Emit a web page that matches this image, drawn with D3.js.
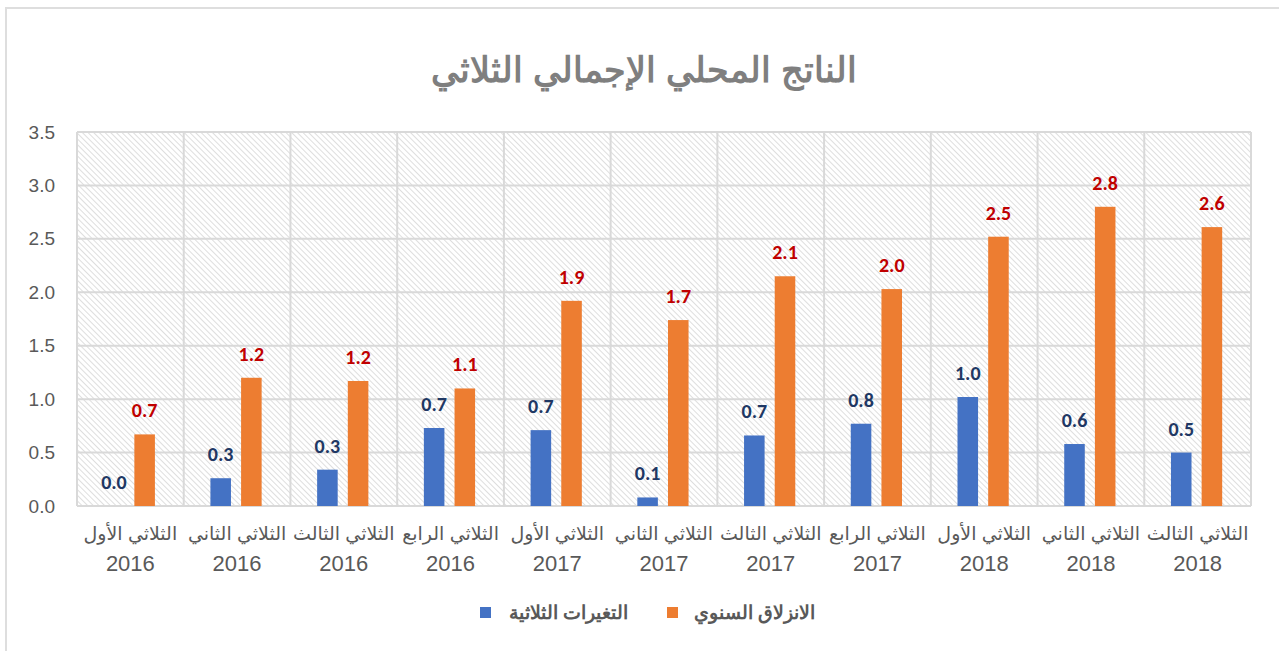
<!DOCTYPE html>
<html>
<head>
<meta charset="utf-8">
<title>الناتج المحلي الإجمالي الثلاثي</title>
<script src="https://cdn.jsdelivr.net/npm/d3@7"></script>
<style>
  body { margin: 0; background: #fff; }
  svg { display: block; font-family: Arial, "Liberation Sans", sans-serif; }
</style>
</head>
<body>
<script>
  // data
  const quarters = ['الثلاثي الأول', 'الثلاثي الثاني', 'الثلاثي الثالث', 'الثلاثي الرابع',
    'الثلاثي الأول', 'الثلاثي الثاني', 'الثلاثي الثالث', 'الثلاثي الرابع',
    'الثلاثي الأول', 'الثلاثي الثاني', 'الثلاثي الثالث'];
  const years = ['2016', '2016', '2016', '2016', '2017', '2017', '2017', '2017', '2018', '2018', '2018'];
  const quarterly = [0.0, 0.26, 0.34, 0.73, 0.71, 0.08, 0.66, 0.77, 1.02, 0.58, 0.50];
  const annual = [0.67, 1.20, 1.17, 1.10, 1.92, 1.74, 2.15, 2.03, 2.52, 2.80, 2.61];
  const yTicks = [0, 0.5, 1, 1.5, 2, 2.5, 3, 3.5];
  const seriesNames = ['التغيرات الثلاثية', 'الانزلاق السنوي'];

  const width = 1279, height = 651;
  const margin = {left: 77, right: 28, top: 132, bottom: 145};
  const colors = ['#4472c4', '#ed7d31'];
  const labelColors = ['#1f3864', '#c00000'];

  const svg = d3.select('body').append('svg')
    .attr('width', width)
    .attr('height', height);

  // hatch pattern for plot background
  const pat = svg.append('defs').append('pattern')
    .attr('id', 'hatch')
    .attr('patternUnits', 'userSpaceOnUse')
    .attr('width', 4).attr('height', 4)
    .attr('patternTransform', 'rotate(-45)');
  pat.append('rect').attr('width', 4).attr('height', 4).attr('fill', '#fff');
  pat.append('line')
    .attr('x1', 0).attr('y1', 0).attr('x2', 0).attr('y2', 4)
    .attr('stroke', '#d0d0d0').attr('stroke-width', 1.4);

  // outer chart border (only top/left visible)
  svg.append('rect')
    .attr('x', 6).attr('y', 8)
    .attr('width', width + 20).attr('height', height + 20)
    .attr('fill', 'none')
    .attr('stroke', '#dedede')
    .attr('stroke-width', 2);

  const x = d3.scaleBand()
    .domain(d3.range(quarters.length))
    .range([margin.left, width - margin.right]);

  const y = d3.scaleLinear()
    .domain([0, 3.5])
    .range([height - margin.bottom, margin.top]);

  // bars inside a category
  const inner = d3.scaleBand()
    .domain([0, 1])
    .range([x.bandwidth() * 0.25, x.bandwidth() * 0.73])
    .paddingInner(0.33);

  // plot background
  svg.append('rect')
    .attr('x', x.range()[0]).attr('y', y(3.5))
    .attr('width', x.range()[1] - x.range()[0])
    .attr('height', y(0) - y(3.5))
    .attr('fill', 'url(#hatch)');

  // horizontal grid
  svg.append('g')
    .selectAll('line')
    .data(yTicks)
    .join('line')
    .attr('x1', x.range()[0]).attr('x2', x.range()[1])
    .attr('y1', d => y(d)).attr('y2', d => y(d))
    .attr('stroke', '#d9d9d9').attr('stroke-width', 2);

  // vertical grid at category boundaries
  svg.append('g')
    .selectAll('line')
    .data(d3.range(quarters.length + 1))
    .join('line')
    .attr('x1', i => i < quarters.length ? x(i) : x.range()[1])
    .attr('x2', i => i < quarters.length ? x(i) : x.range()[1])
    .attr('y1', y(3.5)).attr('y2', y(0))
    .attr('stroke', '#d9d9d9').attr('stroke-width', 2);

  // y axis
  const yAxis = svg.append('g')
    .attr('transform', 'translate(' + (margin.left - 22) + ',0)')
    .call(d3.axisLeft(y).tickValues(yTicks).tickFormat(d3.format('.1f')).tickSize(0).tickPadding(0));
  yAxis.select('.domain').remove();
  yAxis.selectAll('text')
    .attr('fill', '#595959')
    .style('font-size', '19px')
    .style('font-family', 'Arial, "Liberation Sans", sans-serif');

  // bars
  const series = [quarterly, annual];
  series.forEach((vals, s) => {
    const g = svg.append('g');
    g.selectAll('rect')
      .data(vals)
      .join('rect')
      .attr('x', (d, i) => x(i) + inner(s))
      .attr('width', inner.bandwidth())
      .attr('y', d => y(d))
      .attr('height', d => y(0) - y(d))
      .attr('fill', colors[s]);
    g.selectAll('text')
      .data(vals)
      .join('text')
      .attr('x', (d, i) => x(i) + inner(s) + inner.bandwidth() / 2)
      .attr('y', d => y(d) - 17)
      .attr('text-anchor', 'middle')
      .attr('fill', labelColors[s])
      .style('font-size', '20px')
      .style('font-weight', 'bold')
      .style('font-family', 'Calibri, Carlito, "Open Sans", sans-serif')
      .text(d => d3.format('.1f')(d));
  });

  // x axis labels
  const xl = svg.append('g')
    .attr('fill', '#595959')
    .attr('text-anchor', 'middle');
  xl.selectAll('text.q')
    .data(quarters)
    .join('text')
    .attr('class', 'q')
    .attr('x', (d, i) => x(i) + x.bandwidth() / 2)
    .attr('y', 540)
    .attr('direction', 'rtl')
    .style('font-size', '19px')
    .style('font-family', 'Arial, "Liberation Sans", "DejaVu Sans", sans-serif')
    .text(d => d);
  xl.selectAll('text.yr')
    .data(years)
    .join('text')
    .attr('class', 'yr')
    .attr('x', (d, i) => x(i) + x.bandwidth() / 2)
    .attr('y', 571)
    .style('font-size', '22px')
    .text(d => d);

  // title
  svg.append('text')
    .attr('x', 644).attr('y', 82)
    .attr('text-anchor', 'middle')
    .attr('direction', 'rtl')
    .attr('fill', '#7f7f7f')
    .style('font-size', '35px')
    .style('font-weight', 'bold')
    .text('الناتج المحلي الإجمالي الثلاثي');

  // legend
  const legendItems = [
    {name: seriesNames[0], color: colors[0], box: 480, textRight: 628},
    {name: seriesNames[1], color: colors[1], box: 667, textRight: 815}
  ];
  const lg = svg.append('g');
  lg.selectAll('rect')
    .data(legendItems)
    .join('rect')
    .attr('x', d => d.box).attr('y', 607)
    .attr('width', 11).attr('height', 11)
    .attr('fill', d => d.color);
  lg.selectAll('text')
    .data(legendItems)
    .join('text')
    .attr('x', d => d.textRight).attr('y', 619)
    .attr('text-anchor', 'start')
    .attr('direction', 'rtl')
    .attr('fill', '#595959')
    .style('font-size', '19px')
    .style('font-weight', 'bold')
    .text(d => d.name);
</script>
</body>
</html>
